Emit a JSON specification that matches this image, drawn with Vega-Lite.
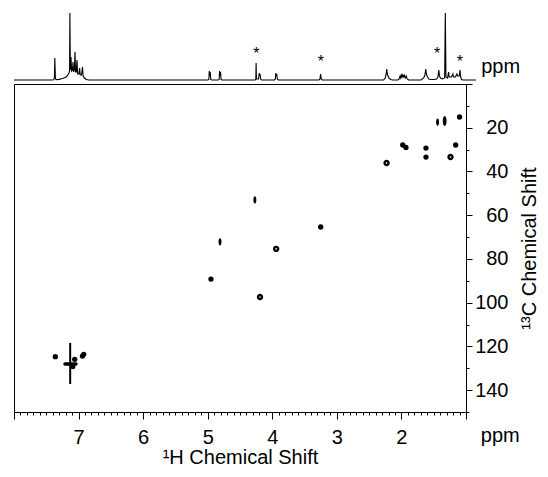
{
  "$schema": "https://vega.github.io/schema/vega-lite/v6.json",
  "padding": {"left": 11, "top": 10, "right": 0, "bottom": 0},
  "autosize": {"type": "pad"},
  "spacing": 4,
  "bounds": "flush",
  "config": {
    "font": "Liberation Sans",
    "view": {"stroke": null},
    "axis": {"grid": false, "domainColor": "black", "tickColor": "black", "labelColor": "black", "titleColor": "black", "labelFont": "Liberation Sans", "titleFont": "Liberation Sans", "titleFontWeight": "normal"}
  },
  "datasets": {
    "trace": [
      {"ppm": 8.0, "i": 0}, {"ppm": 7.42, "i": 0}, {"ppm": 7.385, "i": 0.3}, {"ppm": 7.375, "i": 2}, {"ppm": 7.368, "i": 22}, {"ppm": 7.36, "i": 2}, {"ppm": 7.35, "i": 0.3},
      {"ppm": 7.3, "i": 0.6}, {"ppm": 7.25, "i": 1.5}, {"ppm": 7.2, "i": 2.8}, {"ppm": 7.17, "i": 4.5}, {"ppm": 7.15, "i": 7}, {"ppm": 7.14, "i": 9}, {"ppm": 7.135, "i": 67}, {"ppm": 7.128, "i": 10},
      {"ppm": 7.118, "i": 23}, {"ppm": 7.108, "i": 9}, {"ppm": 7.095, "i": 10}, {"ppm": 7.087, "i": 18}, {"ppm": 7.078, "i": 8}, {"ppm": 7.065, "i": 10}, {"ppm": 7.056, "i": 28}, {"ppm": 7.047, "i": 8},
      {"ppm": 7.035, "i": 8}, {"ppm": 7.025, "i": 20}, {"ppm": 7.015, "i": 6}, {"ppm": 6.995, "i": 6}, {"ppm": 6.985, "i": 12}, {"ppm": 6.975, "i": 5}, {"ppm": 6.955, "i": 5}, {"ppm": 6.94, "i": 13},
      {"ppm": 6.93, "i": 4}, {"ppm": 6.91, "i": 2}, {"ppm": 6.88, "i": 0.5}, {"ppm": 6.84, "i": 0},
      {"ppm": 5.0, "i": 0}, {"ppm": 4.985, "i": 0.5}, {"ppm": 4.978, "i": 9}, {"ppm": 4.97, "i": 4}, {"ppm": 4.964, "i": 8}, {"ppm": 4.955, "i": 0.5}, {"ppm": 4.94, "i": 0},
      {"ppm": 4.84, "i": 0}, {"ppm": 4.825, "i": 0.5}, {"ppm": 4.818, "i": 9}, {"ppm": 4.81, "i": 4}, {"ppm": 4.804, "i": 8}, {"ppm": 4.795, "i": 0.5}, {"ppm": 4.78, "i": 0},
      {"ppm": 4.27, "i": 0}, {"ppm": 4.258, "i": 0.5}, {"ppm": 4.253, "i": 17}, {"ppm": 4.248, "i": 1}, {"ppm": 4.215, "i": 1}, {"ppm": 4.205, "i": 7}, {"ppm": 4.198, "i": 4}, {"ppm": 4.192, "i": 6}, {"ppm": 4.182, "i": 1}, {"ppm": 4.17, "i": 0},
      {"ppm": 3.97, "i": 0}, {"ppm": 3.955, "i": 1}, {"ppm": 3.948, "i": 7}, {"ppm": 3.94, "i": 4}, {"ppm": 3.934, "i": 6}, {"ppm": 3.925, "i": 1}, {"ppm": 3.91, "i": 0},
      {"ppm": 3.28, "i": 0}, {"ppm": 3.265, "i": 1}, {"ppm": 3.255, "i": 6}, {"ppm": 3.245, "i": 1}, {"ppm": 3.23, "i": 0},
      {"ppm": 2.28, "i": 0}, {"ppm": 2.255, "i": 2}, {"ppm": 2.24, "i": 6}, {"ppm": 2.232, "i": 11}, {"ppm": 2.222, "i": 6}, {"ppm": 2.2, "i": 2}, {"ppm": 2.17, "i": 0.5}, {"ppm": 2.14, "i": 0},
      {"ppm": 2.06, "i": 0}, {"ppm": 2.04, "i": 1}, {"ppm": 2.025, "i": 4}, {"ppm": 2.015, "i": 2}, {"ppm": 2.005, "i": 5}, {"ppm": 1.995, "i": 3}, {"ppm": 1.985, "i": 5}, {"ppm": 1.975, "i": 3}, {"ppm": 1.96, "i": 5}, {"ppm": 1.945, "i": 2}, {"ppm": 1.93, "i": 4}, {"ppm": 1.915, "i": 1}, {"ppm": 1.89, "i": 0},
      {"ppm": 1.7, "i": 0}, {"ppm": 1.66, "i": 2}, {"ppm": 1.64, "i": 5}, {"ppm": 1.628, "i": 11}, {"ppm": 1.618, "i": 6}, {"ppm": 1.6, "i": 3}, {"ppm": 1.58, "i": 1}, {"ppm": 1.55, "i": 0.5},
      {"ppm": 1.5, "i": 0.5}, {"ppm": 1.46, "i": 1}, {"ppm": 1.44, "i": 3}, {"ppm": 1.425, "i": 10}, {"ppm": 1.415, "i": 4}, {"ppm": 1.4, "i": 2}, {"ppm": 1.37, "i": 1},
      {"ppm": 1.335, "i": 2}, {"ppm": 1.325, "i": 67}, {"ppm": 1.315, "i": 3}, {"ppm": 1.29, "i": 2}, {"ppm": 1.275, "i": 8}, {"ppm": 1.265, "i": 3}, {"ppm": 1.23, "i": 3}, {"ppm": 1.208, "i": 6}, {"ppm": 1.2, "i": 3},
      {"ppm": 1.17, "i": 3}, {"ppm": 1.145, "i": 6}, {"ppm": 1.135, "i": 4}, {"ppm": 1.11, "i": 4}, {"ppm": 1.097, "i": 10}, {"ppm": 1.09, "i": 4}, {"ppm": 1.075, "i": 0.5}, {"ppm": 1.05, "i": 0}, {"ppm": 0.85, "i": 0}
    ],
    "stars": [
      {"ppm": 4.25, "i": 21}, {"ppm": 3.25, "i": 13}, {"ppm": 1.45, "i": 21}, {"ppm": 1.1, "i": 13}
    ],
    "peaks": [
      {"h": 7.36, "c": 124.7, "kind": "dot"},
      {"h": 7.06, "c": 125.9, "kind": "dot"},
      {"h": 7.09, "c": 129.2, "kind": "dot"},
      {"h": 6.94, "c": 124.4, "kind": "dot"},
      {"h": 6.92, "c": 123.6, "kind": "dot"},
      {"h": 4.27, "c": 53.0, "kind": "oval"},
      {"h": 3.25, "c": 65.4, "kind": "dot"},
      {"h": 4.81, "c": 72.2, "kind": "oval"},
      {"h": 3.94, "c": 75.4, "kind": "ring"},
      {"h": 4.95, "c": 89.2, "kind": "dot"},
      {"h": 4.19, "c": 97.4, "kind": "ring"},
      {"h": 1.44, "c": 17.4, "kind": "oval"},
      {"h": 1.33, "c": 16.9, "kind": "tall"},
      {"h": 1.1, "c": 15.1, "kind": "dot"},
      {"h": 1.98, "c": 27.9, "kind": "dot"},
      {"h": 1.93, "c": 29.0, "kind": "dot"},
      {"h": 1.62, "c": 29.3, "kind": "dot"},
      {"h": 1.62, "c": 33.4, "kind": "dot"},
      {"h": 1.16, "c": 27.9, "kind": "dot"},
      {"h": 1.24, "c": 33.4, "kind": "ring"},
      {"h": 2.23, "c": 36.1, "kind": "ring"}
    ],
    "streaks": [
      {"h": 7.13, "h2": 7.13, "c": 118.4, "c2": 137.2, "w": "thin"},
      {"h": 7.21, "h2": 7.04, "c": 128.0, "c2": 128.0, "w": "thick"}
    ],
    "unit": [
      {"label": "ppm", "h": 0.77, "c": 161}
    ]
  },
  "vconcat": [
    {
      "width": 462,
      "height": 70,
      "view": {"stroke": null},
      "layer": [
        {
          "data": {"name": "trace"},
          "mark": {"type": "line", "color": "black", "strokeWidth": 1.1},
          "encoding": {
            "x": {"field": "ppm", "type": "quantitative", "scale": {"domain": [8, 0.85], "nice": false, "zero": false}, "axis": null},
            "y": {"field": "i", "type": "quantitative", "scale": {"domain": [0, 70], "nice": false}, "axis": null}
          }
        },
        {
          "data": {"name": "stars"},
          "mark": {"type": "text", "text": "*", "fontSize": 16, "baseline": "alphabetic", "color": "black"},
          "encoding": {
            "x": {"field": "ppm", "type": "quantitative"},
            "y": {"field": "i", "type": "quantitative"}
          }
        },
        {
          "data": {"values": [{}]},
          "mark": {"type": "text", "text": "ppm", "align": "left", "baseline": "middle", "fontSize": 20, "color": "black"},
          "encoding": {"x": {"datum": 0.77}, "y": {"datum": 13}}
        }
      ]
    },
    {
      "width": 452,
      "height": 328,
      "view": {"stroke": "black", "strokeWidth": 1},
      "encoding": {
        "x": {
          "field": "h", "type": "quantitative", "title": "¹H Chemical Shift",
          "scale": {"domain": [8, 1], "nice": false, "zero": false},
          "axis": {
            "values": [8, 7.9, 7.8, 7.7, 7.6, 7.5, 7.4, 7.3, 7.2, 7.1, 7, 6.9, 6.8, 6.7, 6.6, 6.5, 6.4, 6.3, 6.2, 6.1, 6, 5.9, 5.8, 5.7, 5.6, 5.5, 5.4, 5.3, 5.2, 5.1, 5, 4.9, 4.8, 4.7, 4.6, 4.5, 4.4, 4.3, 4.2, 4.1, 4, 3.9, 3.8, 3.7, 3.6, 3.5, 3.4, 3.3, 3.2, 3.1, 3, 2.9, 2.8, 2.7, 2.6, 2.5, 2.4, 2.3, 2.2, 2.1, 2, 1.9, 1.8, 1.7, 1.6, 1.5, 1.4, 1.3, 1.2, 1.1, 1],
            "tickSize": {"condition": {"test": "abs(datum.value - round(datum.value)) < 0.01", "value": 7}, "value": 3},
            "labelExpr": "abs(datum.value - round(datum.value)) < 0.01 && datum.value > 1.5 && datum.value < 7.5 ? '' + round(datum.value) : ''",
            "labelOverlap": false, "labelFlush": false, "labelFontSize": 20, "labelPadding": 8,
            "titleFontSize": 20, "titlePadding": 0
          }
        },
        "y": {
          "field": "c", "type": "quantitative", "title": "¹³C Chemical Shift",
          "scale": {"domain": [0, 150], "reverse": true, "nice": false, "zero": false},
          "axis": {
            "orient": "right",
            "values": [0, 10, 20, 30, 40, 50, 60, 70, 80, 90, 100, 110, 120, 130, 140, 150],
            "tickSize": {"condition": {"test": "datum.value % 20 === 0", "value": 6}, "value": 3},
            "labelExpr": "datum.value % 20 === 0 && datum.value >= 20 && datum.value <= 140 ? '' + datum.value : ''",
            "labelOverlap": false, "labelFlush": false, "labelFontSize": 20, "labelAlign": "right", "labelPadding": 36,
            "titleFontSize": 20, "titleAngle": 270, "titleBaseline": "top", "titlePadding": 11
          }
        }
      },
      "layer": [
        {
          "data": {"name": "streaks"},
          "transform": [{"filter": "datum.w === 'thin'"}],
          "mark": {"type": "rule", "color": "black", "strokeWidth": 2},
          "encoding": {"x2": {"field": "h2"}, "y2": {"field": "c2"}}
        },
        {
          "data": {"name": "streaks"},
          "transform": [{"filter": "datum.w === 'thick'"}],
          "mark": {"type": "rule", "color": "black", "strokeWidth": 3.5, "strokeCap": "round"},
          "encoding": {"x2": {"field": "h2"}, "y2": {"field": "c2"}}
        },
        {
          "data": {"name": "peaks"},
          "transform": [{"filter": "datum.kind === 'dot'"}],
          "mark": {"type": "point", "shape": "circle", "filled": true, "color": "black", "size": 28, "opacity": 1}
        },
        {
          "data": {"name": "peaks"},
          "transform": [{"filter": "datum.kind === 'ring'"}],
          "mark": {"type": "point", "shape": "circle", "filled": false, "stroke": "black", "strokeWidth": 2.4, "size": 16, "opacity": 1}
        },
        {
          "data": {"name": "peaks"},
          "transform": [{"filter": "datum.kind === 'oval'"}],
          "mark": {"type": "point", "shape": "M0,-1C0.55,-1 0.55,1 0,1C-0.55,1 -0.55,-1 0,-1Z", "filled": true, "color": "black", "size": 52, "opacity": 1}
        },
        {
          "data": {"name": "peaks"},
          "transform": [{"filter": "datum.kind === 'tall'"}],
          "mark": {"type": "point", "shape": "M0,-1C0.5,-1 0.5,1 0,1C-0.5,1 -0.5,-1 0,-1Z", "filled": true, "color": "black", "size": 100, "opacity": 1}
        },
        {
          "data": {"name": "unit"},
          "mark": {"type": "text", "align": "left", "baseline": "middle", "fontSize": 20, "color": "black", "clip": false},
          "encoding": {"text": {"field": "label"}}
        }
      ]
    }
  ]
}
